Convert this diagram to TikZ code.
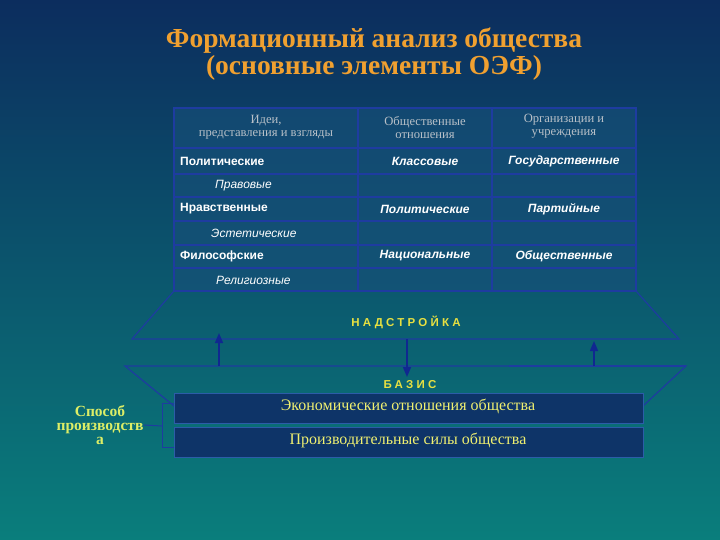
\documentclass[tikz,border=0pt]{standalone}
\usepackage{fontspec}
\setmainfont{Liberation Serif}
\setsansfont{Liberation Sans}
\usetikzlibrary{arrows.meta}
\definecolor{bgtop}{HTML}{0C2D5E}
\definecolor{bgbot}{HTML}{0A7E7C}
\definecolor{titleor}{HTML}{F0A030}
\definecolor{linebl}{HTML}{1E3CA0}
\definecolor{cellfill}{HTML}{17507A}
\definecolor{boxfill}{HTML}{0E3468}
\definecolor{boxedge}{HTML}{2C5CA8}
\definecolor{yeltext}{HTML}{F0F070}
\definecolor{grtext}{HTML}{B8C0C8}
\definecolor{basisyel}{HTML}{E8E040}
\definecolor{spgreen}{HTML}{DDEE66}
\definecolor{arrowbl}{HTML}{102890}
\tikzset{
  cellbox/.style={draw=linebl,line width=1.2pt,fill=cellfill,fill opacity=0.6},
  hdrtext/.style={font=\fontsize{12.6}{13}\selectfont,text=grtext,align=center,inner sep=0pt},
  bodyleft/.style={font=\sffamily\bfseries\fontsize{12}{12}\selectfont,text=white,anchor=west,inner sep=0pt},
  bodyit/.style={font=\sffamily\bfseries\itshape\fontsize{12}{12}\selectfont,text=white,inner sep=0pt},
  subit/.style={font=\sffamily\itshape\fontsize{12}{12}\selectfont,text=white,anchor=west,inner sep=0pt},
  shapeline/.style={draw=linebl,line width=1.2pt},
  levelarrow/.style={draw=arrowbl,line width=1.5pt,-{Triangle[width=8pt,length=10pt]}},
  basebox/.style={draw=boxedge,line width=1pt,fill=boxfill},
  basetext/.style={font=\fontsize{16}{16}\selectfont,text=yeltext,inner sep=0pt},
  leveltext/.style={font=\sffamily\bfseries\fontsize{11.5}{12}\selectfont\addfontfeatures{LetterSpace=28},text=basisyel,inner sep=0pt},
  titletext/.style={font=\bfseries\fontsize{27.5}{30}\selectfont,text=titleor,inner sep=0pt}
}
\begin{document}
\begin{tikzpicture}[x=1pt,y=-1pt]
\useasboundingbox (0,0) rectangle (720,540);
\shade[top color=bgtop,bottom color=bgbot] (0,0) rectangle (720,540);

% title
\node[titletext] (title1) at (374,41) {Формационный анализ общества};
\node[titletext] (title2) at (374,68) {(основные элементы ОЭФ)};

% table cells
\foreach \ya/\yb in {108/148,148/174,174/197,197/221,221/245,245/268,268/291}{
  \foreach \xa/\xb in {174/358,358/492,492/636}{
    \path[cellbox] (\xa,\ya) rectangle (\xb,\yb);
  }
}

% header texts
\node[hdrtext] (h1) at (266,127) {Идеи,\\представления и взгляды};
\node[hdrtext] (h2) at (425,128) {Общественные\\отношения};
\node[hdrtext] (h3) at (564,126) {Организации и\\учреждения};

% body texts
\node[bodyleft] (r1a) at (180,161) {Политические};
\node[bodyit] (r1b) at (425,161) {Классовые};
\node[bodyit] (r1c) at (564,161) {Государственные};
\node[subit] (r2a) at (215,186) {Правовые};
\node[bodyleft] (r3a) at (180,209) {Нравственные};
\node[bodyit] (r3b) at (425,209) {Политические};
\node[bodyit] (r3c) at (564,209) {Партийные};
\node[subit] (r4a) at (211,233) {Эстетические};
\node[bodyleft] (r5a) at (180,256) {Философские};
\node[bodyit] (r5b) at (425,256) {Национальные};
\node[bodyit] (r5c) at (564,256) {Общественные};
\node[subit] (r6a) at (216,280) {Религиозные};

% superstructure trapezoid
\draw[shapeline] (174,291) -- (636,291) -- (679,339) -- (132,339) -- cycle;
\node[leveltext] (nadstr) at (406,322) {НАДСТРОЙКА};

% basis trapezoid
\draw[shapeline] (174,406) -- (125,366) -- (686,366) -- (643,406);
\draw[draw=linebl,line width=2.2pt] (509,366) -- (686,366);
\node[leveltext] (basis) at (410,385) {БАЗИС};

% arrows
\coordinate (la0) at (219,366);
\coordinate (la1) at (219,333);
\coordinate (ma0) at (407,339);
\coordinate (ma1) at (407,377);
\coordinate (ra0) at (594,366);
\coordinate (ra1) at (594,341);
\draw[levelarrow] (la0) -- (la1);
\draw[levelarrow] (ma0) -- (ma1);
\draw[levelarrow] (ra0) -- (ra1);

% basis boxes
\path[basebox] (174,393) rectangle (643,423);
\path[basebox] (174,427) rectangle (643,457);
\node[basetext] (econ) at (408,406) {Экономические отношения общества};
\node[basetext] (prod) at (408,440) {Производительные силы общества};

% mode of production
\node[font=\bfseries\fontsize{15.5}{14}\selectfont,text=spgreen,align=center,inner sep=0pt] (sposob) at (100,425) {Способ\\производств\\а};
\coordinate (brk) at (162,426);
\draw[draw=linebl,line width=1pt] (174,403) -- (162,403) -- (162,447) -- (174,447);
\draw[draw=linebl,line width=1pt] (sposob.east) -- (brk);
\end{tikzpicture}
\end{document}
